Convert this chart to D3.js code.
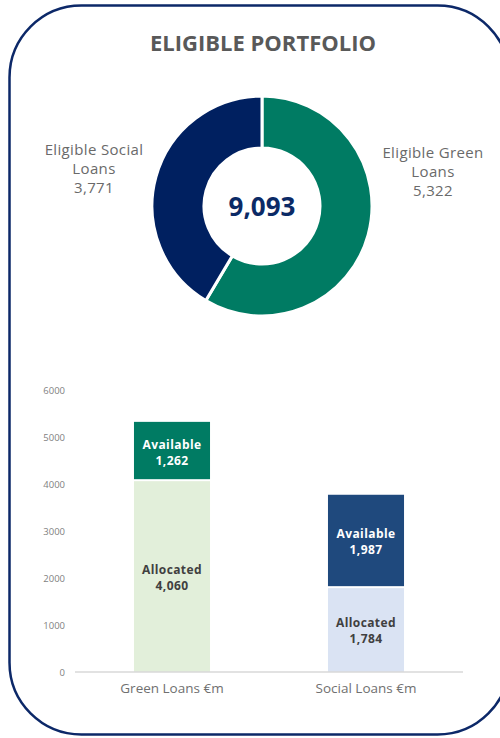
<!DOCTYPE html>
<html>
<head>
<meta charset="utf-8">
<script src="https://cdn.jsdelivr.net/npm/d3@7"></script>
<style>
  html, body { margin: 0; padding: 0; background: #fff; }
  svg { display: block; font-family: "Open Sans", "DejaVu Sans", sans-serif; }
</style>
</head>
<body>
<svg id="chart" width="500" height="738"></svg>
<script>
// ---- Data ----
const title = "ELIGIBLE PORTFOLIO";
const donutCategories = ["Eligible Green Loans", "Eligible Social Loans"];
const donutValues = [5322, 3771];
const donutLabelLines = [["Eligible Green", "Loans", "5,322"], ["Eligible Social", "Loans", "3,771"]];
const donutTotalLabel = "9,093";

const barCategories = ["Green Loans €m", "Social Loans €m"];
const allocatedValues = [4060, 1784];
const availableValues = [1262, 1987];
const yTicks = [0, 1000, 2000, 3000, 4000, 5000, 6000];

// ---- Setup ----
const svg = d3.select("#chart");

// Frame
svg.append("rect")
  .attr("x", 9.5).attr("y", 5.5)
  .attr("width", 500).attr("height", 729)
  .attr("rx", 72).attr("ry", 72)
  .attr("fill", "#fff")
  .attr("stroke", "#0c2868")
  .attr("stroke-width", 2.5);

// Title
svg.append("text")
  .attr("x", 263).attr("y", 51)
  .attr("text-anchor", "middle")
  .attr("font-size", 22)
  .attr("font-weight", 700)
  .attr("fill", "#595959")
  .text(title);

// ---- Donut ----
const cx = 262, cy = 206, rOuter = 110, rInner = 58;
const donutColors = ["#007b63", "#002060"];
const pie = d3.pie().sort(null).value(d => d)(donutValues);
const arc = d3.arc().innerRadius(rInner).outerRadius(rOuter);
const dg = svg.append("g").attr("transform", `translate(${cx},${cy})`);
dg.selectAll("path").data(pie).join("path")
  .attr("d", arc)
  .attr("fill", (d, i) => donutColors[i])
  .attr("stroke", "#fff")
  .attr("stroke-width", 3);

dg.append("text")
  .attr("x", 0).attr("y", 10)
  .attr("text-anchor", "middle")
  .attr("font-size", 26)
  .attr("font-weight", 700)
  .attr("fill", "#0b2a66")
  .text(donutTotalLabel);

const labelPos = [[433, 158], [94, 155]];
donutLabelLines.forEach((lines, i) => {
  lines.forEach((ln, j) => {
    svg.append("text")
      .attr("text-anchor", "middle")
      .attr("font-size", 15)
      .attr("letter-spacing", 0.35)
      .attr("fill", "#6a6a6a")
      .attr("x", labelPos[i][0])
      .attr("y", labelPos[i][1] + j * 19)
      .text(ln);
  });
});

// ---- Bar chart ----
const x = d3.scaleBand().domain(barCategories).range([75, 463])
  .paddingInner(0.608).paddingOuter(0.304);
const y = d3.scaleLinear().domain([0, 6000]).range([672, 390]);

// y tick labels
svg.append("g").selectAll("text").data(yTicks).join("text")
  .attr("x", 65)
  .attr("y", d => y(d) + 3.5)
  .attr("text-anchor", "end")
  .attr("font-size", 9.5)
  .attr("fill", "#7f7f7f")
  .text(d => d);

const stackData = barCategories.map((c, i) => ({
  cat: c, alloc: allocatedValues[i], avail: availableValues[i]
}));
const allocColors = ["#e2efda", "#dae3f3"];
const availColors = ["#007b63", "#1f497d"];
const fmt = d3.format(",");
const gap = 2;

const bg = svg.append("g");
stackData.forEach((d, i) => {
  const bx = x(d.cat), bw = x.bandwidth();
  bg.append("rect")
    .attr("x", bx).attr("width", bw)
    .attr("y", y(d.alloc))
    .attr("height", y(0) - y(d.alloc))
    .attr("fill", allocColors[i]);
  bg.append("rect")
    .attr("x", bx).attr("width", bw)
    .attr("y", y(d.alloc + d.avail))
    .attr("height", y(d.alloc) - y(d.alloc + d.avail) - gap)
    .attr("fill", availColors[i]);

  const cxb = bx + bw / 2;
  const addLabel = (mid, lines, color) => {
    lines.forEach((ln, j) => {
      bg.append("text")
        .attr("text-anchor", "middle")
        .attr("font-size", 12)
        .attr("letter-spacing", 0.4)
        .attr("font-weight", 700)
        .attr("fill", color)
        .attr("x", cxb)
        .attr("y", mid - 3 + j * 16)
        .text(ln);
    });
  };
  addLabel((y(0) + y(d.alloc)) / 2, ["Allocated", fmt(d.alloc)], "#404040");
  addLabel((y(d.alloc) + y(d.alloc + d.avail)) / 2, ["Available", fmt(d.avail)], "#ffffff");
});

// baseline
svg.append("line")
  .attr("x1", 75).attr("x2", 463)
  .attr("y1", y(0)).attr("y2", y(0))
  .attr("stroke", "#d9d9d9").attr("stroke-width", 1.5);

// category labels
svg.append("g").selectAll("text").data(barCategories).join("text")
  .attr("x", d => x(d) + x.bandwidth() / 2)
  .attr("y", 693)
  .attr("text-anchor", "middle")
  .attr("font-size", 13.5)
  .attr("fill", "#707070")
  .text(d => d);
</script>
</body>
</html>
